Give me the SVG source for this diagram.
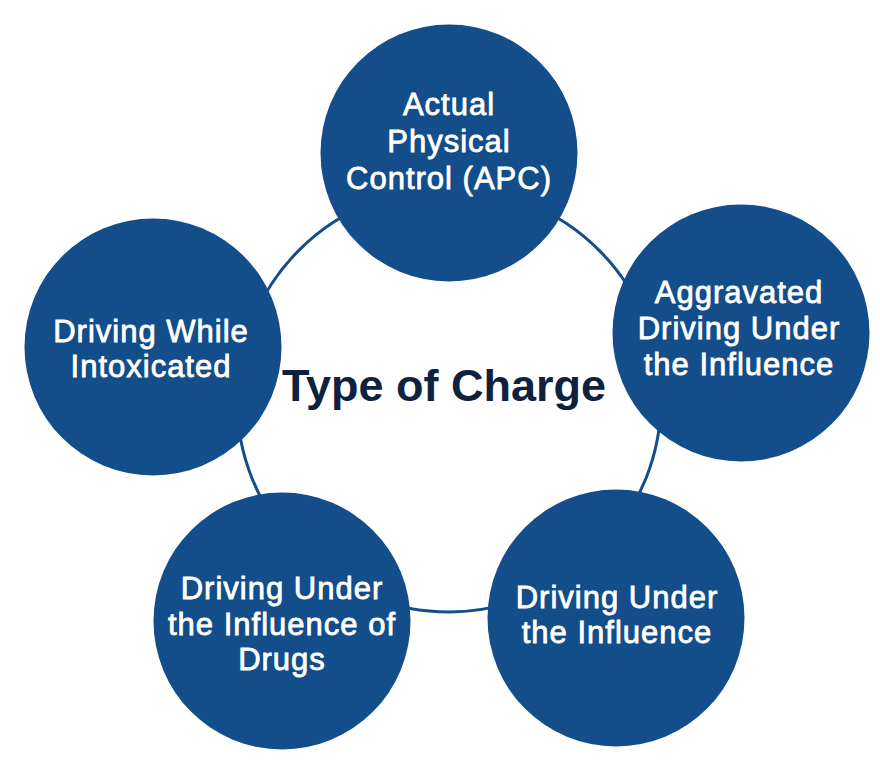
<svg xmlns="http://www.w3.org/2000/svg" width="880" height="767" viewBox="0 0 880 767">
<style>
.node{fill:#134E8A}
.lbl{font-family:"Liberation Sans",Arial,sans-serif;font-weight:normal;font-size:31px;letter-spacing:1px;fill:#FFFFFF;stroke:#FFFFFF;stroke-width:0.8px;text-anchor:middle}
.title{font-family:"Liberation Sans",Arial,sans-serif;font-weight:bold;font-size:45px;fill:#0E2240;text-anchor:middle}
.ring{fill:none;stroke:#134E8A;stroke-width:3}
</style>
<rect width="880" height="767" fill="#FFFFFF"/>
<g id="connectors">
<circle class="ring" cx="449" cy="400" r="212"/>
</g>
<g id="center">
<text class="title" x="444" y="401">Type of Charge</text>
</g>
<g id="node-apc">
<circle class="node" cx="449" cy="153" r="128.5"/>
<text class="lbl" x="449" y="115">Actual</text>
<text class="lbl" x="449" y="152">Physical</text>
<text class="lbl" x="449" y="189">Control (APC)</text>
</g>
<g id="node-aggravated">
<circle class="node" cx="741" cy="333" r="128.5"/>
<text class="lbl" x="739" y="303">Aggravated</text>
<text class="lbl" x="739" y="339">Driving Under</text>
<text class="lbl" x="739" y="375">the Influence</text>
</g>
<g id="node-dui">
<circle class="node" cx="616" cy="618" r="128.5"/>
<text class="lbl" x="617" y="608">Driving Under</text>
<text class="lbl" x="617" y="643">the Influence</text>
</g>
<g id="node-duid">
<circle class="node" cx="282" cy="621" r="128.5"/>
<text class="lbl" x="282" y="599">Driving Under</text>
<text class="lbl" x="282" y="635">the Influence of</text>
<text class="lbl" x="282" y="670">Drugs</text>
</g>
<g id="node-dwi">
<circle class="node" cx="153" cy="347" r="128.5"/>
<text class="lbl" x="151" y="342">Driving While</text>
<text class="lbl" x="151" y="377">Intoxicated</text>
</g>
</svg>
